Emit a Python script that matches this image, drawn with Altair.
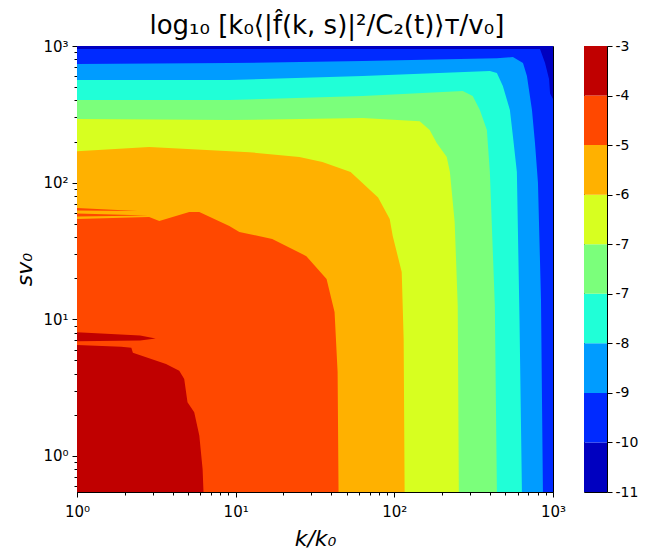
import altair as alt
import pandas as pd

# ---------------- data ----------------
K_DOMAIN = [1, 1000]
S_DOMAIN = [0.545, 1000]

LEVELS = [-11.0, -10.111, -9.222, -8.333, -7.444, -6.556, -5.667, -4.778, -3.889, -3.0]
COLORS = ["#0000c0", "#002aff", "#009cff", "#20ffd7", "#7bff7b",
          "#d7ff20", "#ffb100", "#ff4800", "#c00000"]

# upper-right boundary of the region where the value exceeds each level
k_navy = [1, 1000]
s_navy = [1000, 1000]

k_blue = [1, 828, 891, 944, 958, 1000]
s_blue = [949, 949, 750, 573, 450, 410]

k_lblue = [1, 9.12, 63.1, 443, 559, 647, 685, 737, 770, 804, 840, 864]
s_lblue = [738, 750, 776, 815, 830, 750, 603, 340, 195, 100, 14, 0.545]

k_cyan = [1, 9.12, 63.1, 400, 443, 483, 535, 559, 592, 615, 637]
s_cyan = [563, 563, 603, 655, 634, 510, 340, 219, 119.6, 10, 0.545]

k_green = [1, 9.12, 63.1, 270, 312, 346, 383, 400, 430, 443]
s_green = [402, 402, 430, 468, 430, 340, 243, 119.6, 12.5, 0.545]

k_yellow = [1, 9.12, 63.1, 144.5, 167, 185, 214, 224, 240, 251, 255]
s_yellow = [292, 287, 297, 282, 243, 195, 154, 119.6, 51.5, 12.5, 0.545]

k_orange = [1, 2.85, 12.2, 25.2, 35.2, 53, 79, 93.5, 97.7, 111.3, 114.5, 116.1]
s_orange = [170, 182, 167, 154, 141.5, 119.6, 78, 54.2, 40.7, 22.2, 7.17, 0.545]

k_ored = [1, 2.85, 3.3, 5.1, 5.9, 9.12, 10.55, 17, 27.9, 37.4, 42, 43.9, 44.5]
s_ored = [54.2, 56, 52.4, 61, 61, 48.2, 43.6, 38.7, 29, 19.7, 11.3, 4.12, 0.545]

k_red = [1, 1.9, 2.2, 2.25, 3.64, 4.41, 4.74, 4.97, 5.48, 5.9, 6.19, 6.27]
s_red = [6.49, 6.3, 6.2, 5.7, 4.71, 4.2, 3.66, 2.47, 2.09, 1.41, 0.8, 0.545]

# thin streaks (top and bottom edges)
k_ostreak1 = [1, 2.4]
top_ostreak1 = [65.2, 62]
bot_ostreak1 = [62.5, 62]
k_ostreak2 = [1, 2.8]
top_ostreak2 = [59.5, 57.5]
bot_ostreak2 = [56.5, 57.5]
k_rstreak = [1, 2.5, 3.13]
top_rstreak = [8.05, 7.6, 7.25]
bot_rstreak = [6.9, 7.0, 7.25]

X_TICKS = [1, 2, 3, 4, 5, 6, 7, 8, 9, 10, 20, 30, 40, 50, 60, 70, 80, 90,
           100, 200, 300, 400, 500, 600, 700, 800, 900, 1000]
Y_TICKS = [0.6, 0.7, 0.8, 0.9] + X_TICKS

FONT = "DejaVu Sans"
W, H = 476, 446

major_test = "indexof([1, 10, 100, 1000], datum.value) >= 0"
label_expr = ("datum.value == 1 ? '10⁰' : datum.value == 10 ? '10¹' : "
              "datum.value == 100 ? '10²' : datum.value == 1000 ? '10³' : ''")

x_scale = alt.Scale(type="log", domain=K_DOMAIN, nice=False)
y_scale = alt.Scale(type="log", domain=S_DOMAIN, nice=False)

x_axis = alt.Axis(values=X_TICKS, labelExpr=label_expr, title="k/k₀",
                  titleFontStyle="italic", titleFontSize=22, titleFontWeight="normal",
                  titlePadding=9, labelFontSize=15, labelPadding=7,
                  labelOverlap=False, labelFlush=False, grid=False,
                  tickColor="black", domainColor="black", labelColor="black",
                  tickSize={"condition": {"test": major_test, "value": 5}, "value": 3})
y_axis = alt.Axis(values=Y_TICKS, labelExpr=label_expr, title="sv₀",
                  titleFontStyle="italic", titleFontSize=22, titleFontWeight="normal",
                  titlePadding=6, labelFontSize=15, labelPadding=4,
                  labelOverlap=False, labelFlush=False, grid=False,
                  tickColor="black", domainColor="black", labelColor="black",
                  tickSize={"condition": {"test": major_test, "value": 5}, "value": 3})


def region(ks, tops, bots, color):
    df = pd.DataFrame({"k": [float(v) for v in ks],
                       "s": [float(v) for v in tops],
                       "s0": [float(v) for v in bots]})
    return alt.Chart(df).mark_area(color=color, opacity=1).encode(
        x=alt.X("k:Q", scale=x_scale, axis=x_axis),
        y=alt.Y("s:Q", scale=y_scale, axis=y_axis),
        y2=alt.Y2("s0:Q"),
    )


def filled(ks, ss, color):
    return region(ks, ss, [S_DOMAIN[0]] * len(ks), color)


layers = [
    filled(k_navy, s_navy, COLORS[0]),
    filled(k_blue, s_blue, COLORS[1]),
    filled(k_lblue, s_lblue, COLORS[2]),
    filled(k_cyan, s_cyan, COLORS[3]),
    filled(k_green, s_green, COLORS[4]),
    filled(k_yellow, s_yellow, COLORS[5]),
    filled(k_orange, s_orange, COLORS[6]),
    region(k_ostreak1, top_ostreak1, bot_ostreak1, COLORS[7]),
    region(k_ostreak2, top_ostreak2, bot_ostreak2, COLORS[7]),
    filled(k_ored, s_ored, COLORS[7]),
    filled(k_red, s_red, COLORS[8]),
    region(k_rstreak, top_rstreak, bot_rstreak, COLORS[8]),
]

main = alt.layer(*layers).properties(width=W, height=H)

cb_df = pd.DataFrame({"lo": LEVELS[:-1], "hi": LEVELS[1:], "c": COLORS})
colorbar = alt.Chart(cb_df).mark_rect().encode(
    x=alt.value(0),
    x2=alt.value(23),
    y=alt.Y("lo:Q", scale=alt.Scale(domain=[LEVELS[0], LEVELS[-1]], nice=False, zero=False),
            axis=alt.Axis(orient="right", values=LEVELS, labelExpr="round(datum.value) + ''",
                          title=None, domain=False, grid=False, tickSize=5,
                          tickColor="black", labelColor="black", labelFontSize=14,
                          labelPadding=3, labelOverlap=False, labelFlush=False)),
    y2="hi:Q",
    color=alt.Color("c:N", scale=None),
).properties(width=23, height=H)

chart = alt.hconcat(main, colorbar, spacing=31, bounds="flush").properties(
    title=alt.TitleParams("log₁₀ [k₀⟨|f̂(k, s)|²/C₂(t)⟩ᴛ/v₀]", fontSize=26,
                          fontWeight="normal", anchor="middle", dx=1, offset=0,
                          color="black"),
    padding={"left": 5, "top": 4, "right": 0, "bottom": 0},
).configure(font=FONT).configure_view(stroke="black", strokeWidth=1)

chart.save("out.html", embed_options={"renderer": "svg", "actions": False})
